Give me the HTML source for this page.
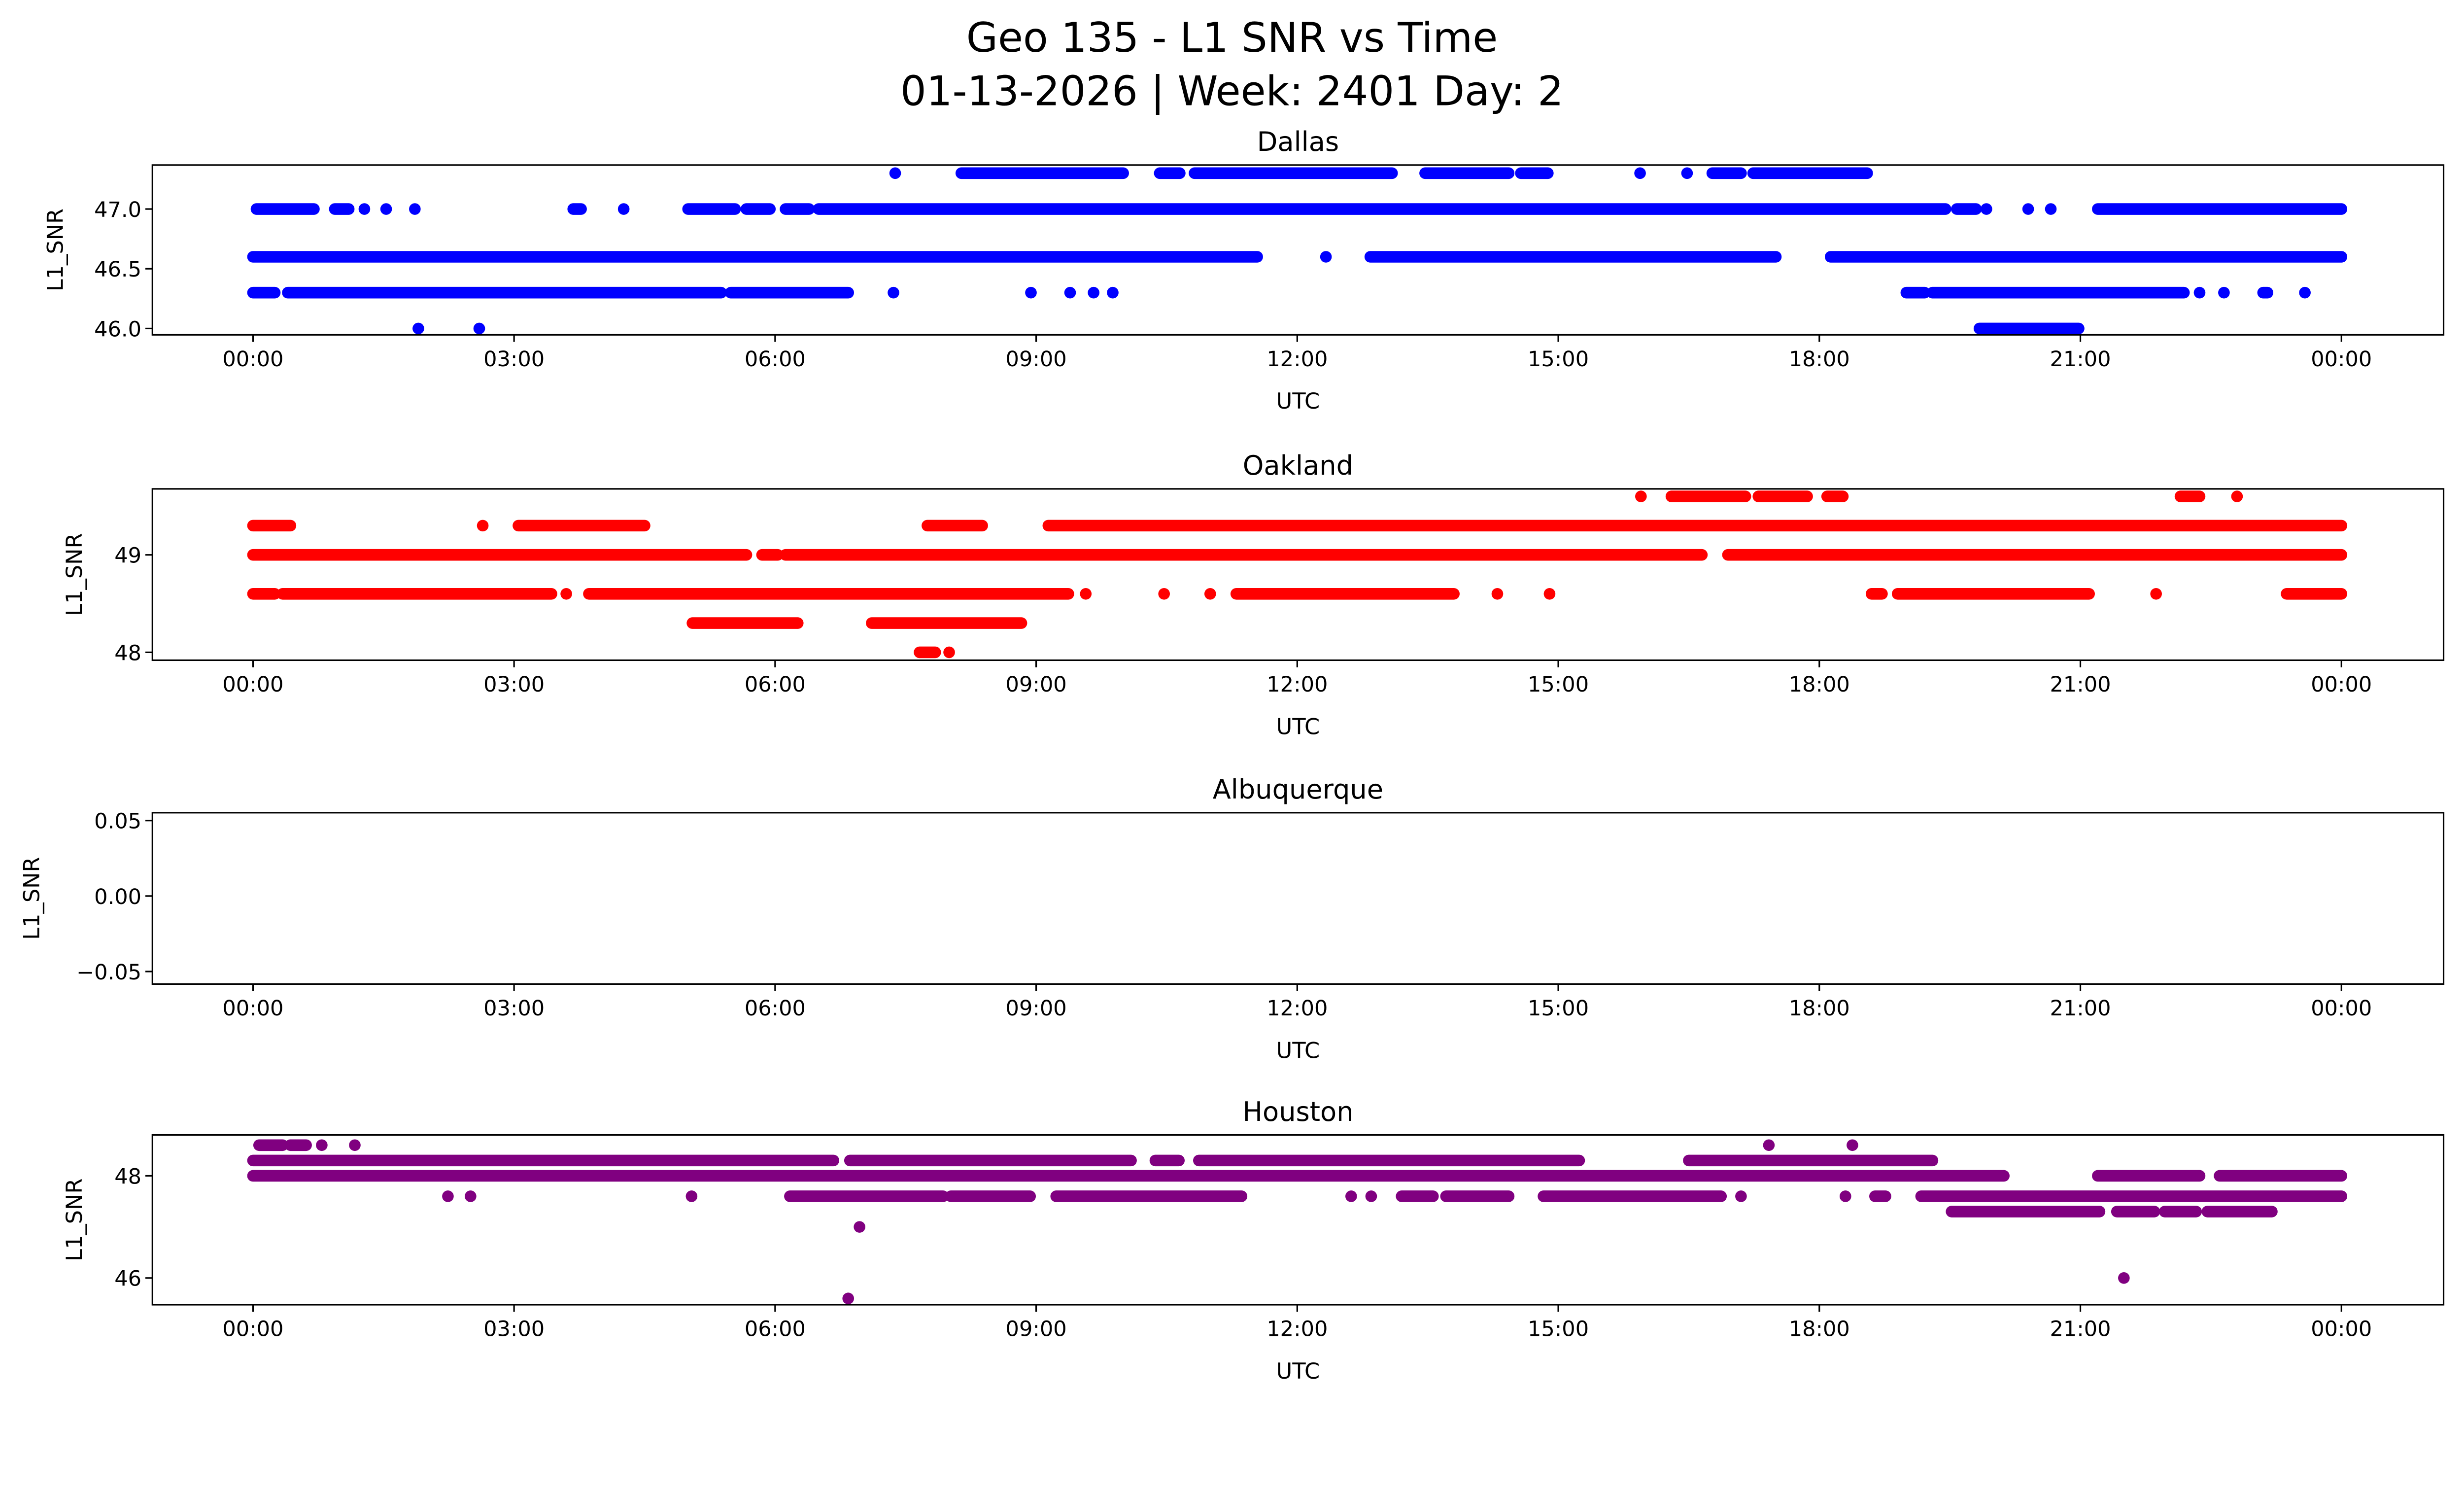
<!DOCTYPE html>
<html><head><meta charset="utf-8"><style>html,body{margin:0;padding:0;background:#fff;overflow:hidden}svg{display:block;position:absolute;left:0;top:0;width:100vw;height:56.958vw}</style></head>
<body>
<svg id="fig" xmlns="http://www.w3.org/2000/svg" viewBox="0 0 1568 893" preserveAspectRatio="none" font-family="'DejaVu Sans','Liberation Sans',sans-serif">
<rect width="1568" height="893" fill="#fff"/>
<text x="784" y="33" font-size="26" text-anchor="middle">Geo 135 - L1 SNR vs Time</text>
<text x="784" y="67" font-size="26" text-anchor="middle">01-13-2026 | Week: 2401 Day: 2</text>
</svg>
<script>
const xTicks = [0,3,6,9,12,15,18,21,24];
const xTickLabels = ["00:00","03:00","06:00","09:00","12:00","15:00","18:00","21:00","00:00"];
const panelNames = ["Dallas","Oakland","Albuquerque","Houston"];
const dallasRuns = [
 [46.6,0,11.54],[46.6,12.33,12.33],[46.6,12.84,17.5],[46.6,18.13,24],
 [46.3,0,0.25],[46.3,0.4,5.38],[46.3,5.49,6.84],[46.3,7.36,7.36],[46.3,8.94,8.94],[46.3,9.39,9.39],[46.3,9.66,9.66],[46.3,9.88,9.88],[46.3,19.0,19.21],[46.3,19.3,22.19],[46.3,22.37,22.37],[46.3,22.65,22.65],[46.3,23.1,23.15],[46.3,23.58,23.58],
 [47.0,0.04,0.7],[47.0,0.94,1.1],[47.0,1.28,1.28],[47.0,1.53,1.53],[47.0,1.86,1.86],[47.0,3.68,3.77],[47.0,4.26,4.26],[47.0,5.0,5.54],[47.0,5.67,5.94],[47.0,6.12,6.39],[47.0,6.5,19.45],[47.0,19.58,19.8],[47.0,19.92,19.92],[47.0,20.4,20.4],[47.0,20.66,20.66],[47.0,21.2,24],
 [47.3,7.38,7.38],[47.3,8.14,10.0],[47.3,10.42,10.65],[47.3,10.82,13.09],[47.3,13.47,14.43],[47.3,14.57,14.88],[47.3,15.94,15.94],[47.3,16.48,16.48],[47.3,16.77,17.1],[47.3,17.24,18.55],
 [46.0,1.9,1.9],[46.0,2.6,2.6],[46.0,19.84,20.98]
];
const oaklandRuns = [
 [49.0,0,5.67],[49.0,5.85,6.03],[49.0,6.12,16.65],[49.0,16.95,24],
 [49.3,0,0.43],[49.3,2.64,2.64],[49.3,3.05,4.5],[49.3,7.75,8.38],[49.3,9.14,24],
 [48.6,0,0.25],[48.6,0.34,3.43],[48.6,3.6,3.6],[48.6,3.86,9.37],[48.6,9.57,9.57],[48.6,10.47,10.47],[48.6,11.0,11.0],[48.6,11.3,13.8],[48.6,14.3,14.3],[48.6,14.9,14.9],[48.6,18.6,18.72],[48.6,18.9,21.1],[48.6,21.87,21.87],[48.6,23.37,24],
 [48.3,5.05,6.26],[48.3,7.11,8.83],
 [48.0,7.66,7.84],[48.0,8.0,8.0],
 [49.6,15.95,15.95],[49.6,16.3,17.15],[49.6,17.3,17.86],[49.6,18.09,18.27],[49.6,22.15,22.37],[49.6,22.8,22.8]
];
const albuquerqueRuns = [];
const houstonRuns = [
 [48.3,0,6.67],[48.3,6.86,10.09],[48.3,10.37,10.64],[48.3,10.87,15.24],[48.3,16.5,19.3],
 [48.0,0,20.12],[48.0,21.2,22.37],[48.0,22.6,24],
 [47.6,2.24,2.24],[47.6,2.5,2.5],[47.6,5.04,5.04],[47.6,6.17,7.93],[47.6,8.02,8.93],[47.6,9.23,11.36],[47.6,12.62,12.62],[47.6,12.85,12.85],[47.6,13.2,13.56],[47.6,13.71,14.43],[47.6,14.83,16.87],[47.6,17.1,17.1],[47.6,18.3,18.3],[47.6,18.64,18.76],[47.6,19.17,24],
 [47.3,19.52,21.22],[47.3,21.42,21.85],[47.3,21.97,22.33],[47.3,22.46,23.2],
 [48.6,0.07,0.34],[48.6,0.43,0.61],[48.6,0.79,0.79],[48.6,1.17,1.17],[48.6,17.42,17.42],[48.6,18.38,18.38],
 [47.0,6.97,6.97],[45.6,6.84,6.84],[46.0,21.5,21.5]
];
const dallasYTicks = [46.0,46.5,47.0];
const dallasYLabels = ["46.0","46.5","47.0"];
const oaklandYTicks = [48,49];
const oaklandYLabels = ["48","49"];
const albuquerqueYTicks = [-0.05,0,0.05];
const albuquerqueYLabels = ["\u22120.05","0.00","0.05"];
const houstonYTicks = [46,48];
const houstonYLabels = ["46","48"];

const NS="http://www.w3.org/2000/svg";
const svg=document.getElementById('fig');
function mk(tag,attrs,parent){const e=document.createElementNS(NS,tag);for(const k in attrs)e.setAttribute(k,attrs[k]);(parent||svg).appendChild(e);return e;}
const X0=97,X1=1555,H0=161,H1=1490;
const xScale=h=>H0+(h/24)*(H1-H0);
const panels=[
 {runs:dallasRuns,yt:dallasYTicks,yl:dallasYLabels,top:105,bot:213,ymin:45.947,ymax:47.368,color:"#0000ff",key:"dallas"},
 {runs:oaklandRuns,yt:oaklandYTicks,yl:oaklandYLabels,top:311,bot:420,ymin:47.919,ymax:49.677,color:"#ff0000",key:"oakland"},
 {runs:albuquerqueRuns,yt:albuquerqueYTicks,yl:albuquerqueYLabels,top:517,bot:626,ymin:-0.0583,ymax:0.0552,color:"#0000ff",key:"albuquerque"},
 {runs:houstonRuns,yt:houstonYTicks,yl:houstonYLabels,top:722,bot:830,ymin:45.477,ymax:48.8,color:"#800080",key:"houston"}
];
panels.forEach((p,i)=>{
 const g=mk('g',{});
 
 
 const y=v=>p.bot-(v-p.ymin)/(p.ymax-p.ymin)*(p.bot-p.top);
 const t=mk('text',{x:(X0+X1)/2,y:p.top-9,'font-size':17,'text-anchor':'middle'},g);t.textContent=panelNames[i];
 
 
 const dg=mk('g',{fill:p.color,stroke:p.color,'stroke-linecap':'round','stroke-width':7.4},g);
 
 
 p.runs.forEach(r=>{
  const x1=xScale(r[1]),x2=xScale(r[2]),yy=y(r[0]);
  const ln=mk('line',{x1:x1,y1:yy,x2:Math.max(x2,x1+0.01),y2:yy},dg);
  
  
 });
 const fr=mk('rect',{x:X0,y:p.top,width:X1-X0,height:p.bot-p.top,fill:'none',stroke:'#000','stroke-width':1},g);
 
 
 xTicks.forEach((h,j)=>{
  const x=xScale(h);
  mk('line',{x1:x,x2:x,y1:p.bot,y2:p.bot+4.5,stroke:'#000','stroke-width':1},g);
  const tl=mk('text',{x:x,y:p.bot+20,'font-size':13.5,'text-anchor':'middle'},g);tl.textContent=xTickLabels[j];
  
  
 });
 p.yt.forEach((v,j)=>{
  const yy=y(v);
  mk('line',{x1:X0-4.5,x2:X0,y1:yy,y2:yy,stroke:'#000','stroke-width':1},g);
  const tl=mk('text',{x:X0-7,y:yy+5,'font-size':13.5,'text-anchor':'end'},g);tl.textContent=p.yl[j];
  
  
 });
 const xl=mk('text',{x:(X0+X1)/2,y:p.bot+47,'font-size':14,'text-anchor':'middle'},g);xl.textContent="UTC";
 
 
 const lx=(i==2)?25:(i==0?40:52);
 const cy=(p.top+p.bot)/2;
 const yl=mk('text',{x:lx,y:cy,'font-size':14,'text-anchor':'middle',transform:`rotate(-90 ${lx} ${cy})`},g);yl.textContent="L1_SNR";
 
 
});
</script>
</body></html>
